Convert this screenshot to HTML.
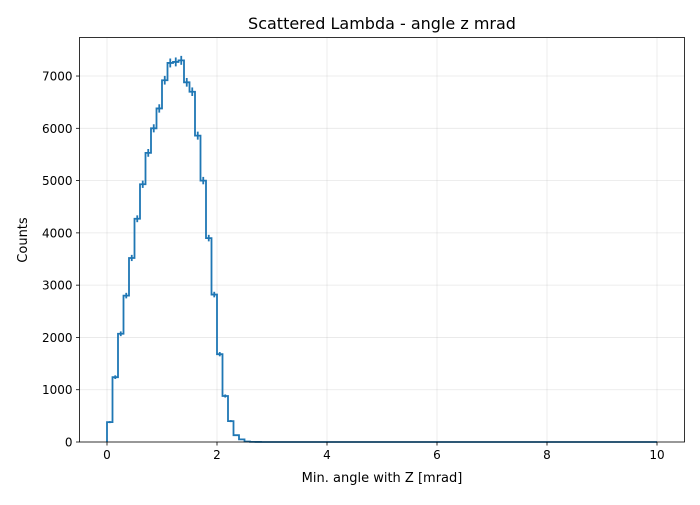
<!DOCTYPE html>
<html><head><meta charset="utf-8"><style>
body{margin:0;background:#fff;font-family:"Liberation Sans","DejaVu Sans",sans-serif}
svg text{font-family:"DejaVu Sans","Liberation Sans",sans-serif;fill:#000}
</style></head><body>
<svg id="chart" width="700" height="500" xmlns="http://www.w3.org/2000/svg">
<rect x="0" y="0" width="700" height="500" fill="#fff"/>
<g id="grid"></g>
<g id="series"></g>
<rect x="79.5" y="37.5" width="605" height="404.5" fill="none" stroke="#000" stroke-width="0.8"/>
<g id="axes"></g>
<text x="382" y="29" font-size="16" text-anchor="middle">Scattered Lambda - angle z mrad</text>
<text x="382" y="482" font-size="13" text-anchor="middle">Min. angle with Z [mrad]</text>
<text x="27" y="240" font-size="13" text-anchor="middle" transform="rotate(-90 27 240)">Counts</text>
</svg>
<script>
const binEdgesStart = 0;
const binWidth = 0.1;
const counts = [380,1240,2070,2800,3520,4270,4930,5530,6000,6380,6920,7250,7270,7300,6880,6700,5860,5000,3900,2820,1680,880,400,130,50,10,3,1];
const totalBins = 100;
const xTicks = [0,2,4,6,8,10];
const yTicks = [0,1000,2000,3000,4000,5000,6000,7000];
const NS="http://www.w3.org/2000/svg";
const X0=79.5,X1=684.5,xMin=-0.5,xMax=10.5;
const Y0=442,yMin=0,yMaxV=7737;
function sx(v){return X0+(v-xMin)/(xMax-xMin)*(X1-X0);}
function sy(v){return Y0-(v-yMin)/(yMaxV-yMin)*(Y0-37.5);}
const grid=document.getElementById('grid'),axes=document.getElementById('axes'),ser=document.getElementById('series');
function mk(tag,attrs,parent){const e=document.createElementNS(NS,tag);for(const k in attrs)e.setAttribute(k,attrs[k]);parent.appendChild(e);return e;}
xTicks.forEach(t=>{
  const x=sx(t);
  const g=mk('line',{x1:x,x2:x,y1:37.5,y2:Y0,stroke:'#b0b0b0','stroke-opacity':0.3,'stroke-width':0.8},grid);
  
  
  const tk=mk('line',{x1:x,x2:x,y1:Y0,y2:Y0+3.5,stroke:'#000','stroke-width':0.8},axes);
  
  
  const tx=mk('text',{x:x,y:Y0+17,'font-size':12,'text-anchor':'middle'},axes);
  tx.textContent=t;
  
  
});
yTicks.forEach(t=>{
  const y=sy(t);
  const g=mk('line',{x1:X0,x2:X1,y1:y,y2:y,stroke:'#b0b0b0','stroke-opacity':0.3,'stroke-width':0.8},grid);
  
  
  const tk=mk('line',{x1:X0-3.5,x2:X0,y1:y,y2:y,stroke:'#000','stroke-width':0.8},axes);
  
  
  const tx=mk('text',{x:X0-7,y:y+4.5,'font-size':12,'text-anchor':'end'},axes);
  tx.textContent=t;
  
  
});
let d='M'+sx(binEdgesStart)+' '+sy(0);
for(let i=0;i<totalBins;i++){
  const c=i<counts.length?counts[i]:0;
  const a=binEdgesStart+i*binWidth,b=a+binWidth;
  d+=' L'+sx(a)+' '+sy(c)+' L'+sx(b)+' '+sy(c);
}
const p=mk('path',{d:d,fill:'none',stroke:'#1f77b4','stroke-width':1.8},ser);


counts.forEach((c,i)=>{
  if(c<=0)return;
  const xc=sx(binEdgesStart+(i+0.5)*binWidth),e=Math.sqrt(c);
  const l=mk('line',{x1:xc,x2:xc,y1:sy(c-e),y2:sy(c+e),stroke:'#1f77b4','stroke-width':1.8},ser);
  
  
});
</script>
</body></html>
